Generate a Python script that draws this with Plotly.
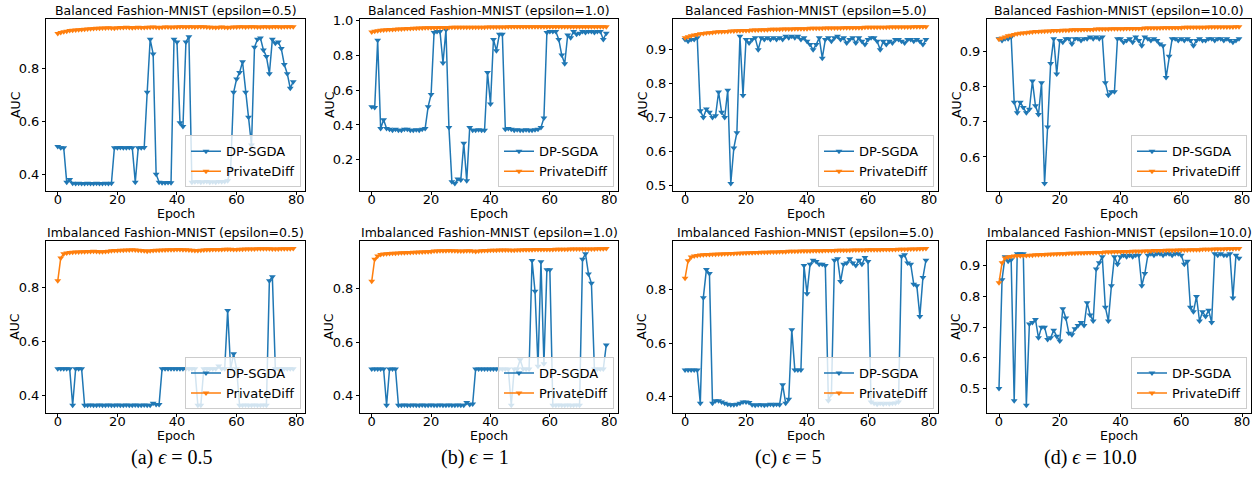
import plotly.graph_objects as go

epochs = list(range(80))

# ---------------- Balanced Fashion-MNIST ----------------
bal_05_dpsgda = [
    0.505, 0.500, 0.500, 0.370, 0.380, 0.366, 0.365, 0.366, 0.365, 0.365,
    0.366, 0.365, 0.365, 0.366, 0.365, 0.365, 0.366, 0.365, 0.366, 0.500,
    0.500, 0.501, 0.500, 0.500, 0.501, 0.500, 0.370, 0.500, 0.500, 0.501,
    0.710, 0.910, 0.855, 0.400, 0.370, 0.368, 0.368, 0.369, 0.368, 0.910,
    0.900, 0.595, 0.580, 0.900, 0.920, 0.370, 0.371, 0.372, 0.370, 0.371,
    0.372, 0.370, 0.371, 0.370, 0.372, 0.371, 0.372, 0.375, 0.420, 0.710,
    0.760, 0.785, 0.825, 0.710, 0.615, 0.510, 0.880, 0.910, 0.915, 0.870,
    0.845, 0.780, 0.910, 0.895, 0.900, 0.875, 0.815, 0.780, 0.725, 0.750]
bal_05_privdiff = [
    0.932, 0.936, 0.939, 0.941, 0.943, 0.944, 0.945, 0.946, 0.947, 0.948,
    0.949, 0.950, 0.951, 0.952, 0.952, 0.953, 0.953, 0.954, 0.953, 0.952,
    0.954, 0.955, 0.955, 0.956, 0.955, 0.954, 0.955, 0.956, 0.955, 0.955,
    0.956, 0.956, 0.957, 0.956, 0.955, 0.956, 0.957, 0.957, 0.956, 0.957,
    0.957, 0.958, 0.958, 0.957, 0.958, 0.958, 0.957, 0.958, 0.958, 0.958,
    0.957, 0.956, 0.956, 0.955, 0.956, 0.957, 0.956, 0.955, 0.956, 0.957,
    0.957, 0.958, 0.958, 0.957, 0.958, 0.958, 0.958, 0.957, 0.957, 0.958,
    0.958, 0.957, 0.958, 0.958, 0.958, 0.957, 0.958, 0.958, 0.958, 0.958]

bal_1_dpsgda = [
    0.505, 0.500, 0.885, 0.380, 0.430, 0.380, 0.375, 0.370, 0.375, 0.370,
    0.370, 0.375, 0.375, 0.370, 0.370, 0.372, 0.370, 0.375, 0.380, 0.505,
    0.575, 0.930, 0.935, 0.935, 0.755, 0.945, 0.385, 0.075, 0.065, 0.090,
    0.085, 0.295, 0.080, 0.385, 0.370, 0.370, 0.372, 0.370, 0.370, 0.700,
    0.520, 0.890, 0.825, 0.920, 0.920, 0.375, 0.380, 0.375, 0.370, 0.372,
    0.370, 0.370, 0.372, 0.370, 0.370, 0.372, 0.375, 0.385, 0.440, 0.930,
    0.935, 0.935, 0.935, 0.890, 0.800, 0.750, 0.915, 0.900, 0.935, 0.920,
    0.925, 0.935, 0.930, 0.935, 0.935, 0.930, 0.935, 0.935, 0.890, 0.925]
bal_1_privdiff = [
    0.933, 0.937, 0.940, 0.942, 0.944, 0.945, 0.946, 0.947, 0.948, 0.949,
    0.950, 0.951, 0.952, 0.953, 0.954, 0.954, 0.955, 0.955, 0.956, 0.956,
    0.957, 0.957, 0.957, 0.958, 0.958, 0.958, 0.958, 0.959, 0.959, 0.959,
    0.959, 0.959, 0.960, 0.960, 0.960, 0.960, 0.960, 0.960, 0.960, 0.961,
    0.961, 0.961, 0.961, 0.961, 0.961, 0.961, 0.962, 0.962, 0.962, 0.962,
    0.962, 0.962, 0.962, 0.962, 0.962, 0.962, 0.962, 0.962, 0.962, 0.962,
    0.962, 0.962, 0.962, 0.962, 0.962, 0.963, 0.963, 0.963, 0.963, 0.963,
    0.963, 0.963, 0.963, 0.963, 0.963, 0.963, 0.963, 0.963, 0.963, 0.963]

bal_5_dpsgda = [
    0.930, 0.925, 0.930, 0.930, 0.935, 0.720, 0.700, 0.725, 0.715, 0.700,
    0.705, 0.775, 0.715, 0.700, 0.780, 0.505, 0.610, 0.655, 0.940, 0.765,
    0.930, 0.920, 0.930, 0.935, 0.900, 0.935, 0.930, 0.935, 0.930, 0.935,
    0.930, 0.935, 0.930, 0.940, 0.935, 0.940, 0.935, 0.940, 0.930, 0.935,
    0.925, 0.915, 0.900, 0.915, 0.935, 0.875, 0.930, 0.935, 0.925, 0.935,
    0.940, 0.930, 0.935, 0.920, 0.930, 0.935, 0.920, 0.935, 0.925, 0.915,
    0.930, 0.935, 0.935, 0.925, 0.900, 0.925, 0.915, 0.925, 0.920, 0.930,
    0.930, 0.925, 0.920, 0.930, 0.930, 0.925, 0.930, 0.925, 0.915, 0.930]
bal_5_privdiff = [
    0.935, 0.938, 0.941, 0.943, 0.945, 0.947, 0.948, 0.949, 0.950, 0.951,
    0.952, 0.953, 0.953, 0.954, 0.954, 0.955, 0.955, 0.956, 0.956, 0.957,
    0.957, 0.957, 0.958, 0.958, 0.958, 0.959, 0.959, 0.959, 0.960, 0.960,
    0.960, 0.960, 0.961, 0.961, 0.961, 0.961, 0.962, 0.962, 0.962, 0.962,
    0.962, 0.963, 0.963, 0.963, 0.963, 0.963, 0.964, 0.964, 0.964, 0.964,
    0.964, 0.964, 0.965, 0.965, 0.965, 0.965, 0.965, 0.965, 0.965, 0.966,
    0.966, 0.966, 0.966, 0.966, 0.966, 0.966, 0.966, 0.967, 0.967, 0.967,
    0.967, 0.967, 0.967, 0.967, 0.967, 0.968, 0.968, 0.968, 0.968, 0.968]

bal_10_dpsgda = [
    0.935, 0.930, 0.935, 0.935, 0.940, 0.755, 0.725, 0.755, 0.740, 0.725,
    0.735, 0.815, 0.745, 0.720, 0.810, 0.525, 0.685, 0.865, 0.935, 0.835,
    0.930, 0.925, 0.935, 0.935, 0.920, 0.935, 0.935, 0.930, 0.935, 0.935,
    0.940, 0.935, 0.940, 0.935, 0.940, 0.810, 0.775, 0.785, 0.785, 0.935,
    0.935, 0.925, 0.930, 0.935, 0.925, 0.940, 0.930, 0.915, 0.940, 0.935,
    0.930, 0.935, 0.930, 0.920, 0.915, 0.825, 0.885, 0.935, 0.935, 0.930,
    0.935, 0.930, 0.935, 0.930, 0.915, 0.930, 0.935, 0.930, 0.930, 0.935,
    0.935, 0.930, 0.935, 0.935, 0.930, 0.935, 0.930, 0.925, 0.930, 0.935]
bal_10_privdiff = [
    0.933, 0.937, 0.940, 0.943, 0.945, 0.947, 0.949, 0.950, 0.951, 0.952,
    0.953, 0.954, 0.955, 0.955, 0.956, 0.956, 0.957, 0.957, 0.958, 0.958,
    0.958, 0.959, 0.959, 0.959, 0.960, 0.960, 0.960, 0.960, 0.961, 0.961,
    0.961, 0.961, 0.962, 0.962, 0.962, 0.962, 0.962, 0.963, 0.963, 0.963,
    0.963, 0.963, 0.964, 0.964, 0.964, 0.964, 0.964, 0.964, 0.965, 0.965,
    0.965, 0.965, 0.965, 0.965, 0.966, 0.966, 0.966, 0.966, 0.966, 0.966,
    0.966, 0.967, 0.967, 0.967, 0.967, 0.967, 0.967, 0.967, 0.967, 0.968,
    0.968, 0.968, 0.968, 0.968, 0.968, 0.968, 0.968, 0.968, 0.969, 0.969]

# ---------------- Imbalanced Fashion-MNIST ----------------
imb_05_dpsgda = [
    0.500, 0.500, 0.500, 0.500, 0.500, 0.365, 0.500, 0.500, 0.500, 0.365,
    0.365, 0.366, 0.365, 0.365, 0.366, 0.365, 0.365, 0.366, 0.365, 0.365,
    0.366, 0.365, 0.365, 0.366, 0.365, 0.365, 0.366, 0.365, 0.365, 0.366,
    0.365, 0.365, 0.372, 0.368, 0.368, 0.500, 0.500, 0.500, 0.500, 0.500,
    0.500, 0.500, 0.500, 0.500, 0.500, 0.500, 0.500, 0.365, 0.365, 0.500,
    0.500, 0.500, 0.500, 0.500, 0.510, 0.500, 0.500, 0.715, 0.500, 0.555,
    0.500, 0.365, 0.365, 0.366, 0.365, 0.365, 0.366, 0.365, 0.365, 0.366,
    0.365, 0.825, 0.840, 0.500, 0.500, 0.500, 0.500, 0.500, 0.500, 0.500]
imb_05_privdiff = [
    0.825, 0.910, 0.925, 0.928, 0.930, 0.931, 0.932, 0.932, 0.933, 0.933,
    0.934, 0.934, 0.935, 0.934, 0.933, 0.933, 0.934, 0.935, 0.936, 0.937,
    0.937, 0.938, 0.938, 0.939, 0.939, 0.940, 0.939, 0.938, 0.937, 0.936,
    0.935, 0.936, 0.937, 0.938, 0.938, 0.939, 0.939, 0.940, 0.940, 0.940,
    0.941, 0.941, 0.940, 0.940, 0.939, 0.938, 0.937, 0.937, 0.938, 0.939,
    0.940, 0.940, 0.941, 0.941, 0.941, 0.941, 0.942, 0.942, 0.942, 0.941,
    0.941, 0.942, 0.942, 0.943, 0.943, 0.943, 0.943, 0.944, 0.944, 0.944,
    0.944, 0.944, 0.943, 0.943, 0.943, 0.944, 0.944, 0.944, 0.944, 0.945]

imb_1_dpsgda = [
    0.500, 0.500, 0.500, 0.500, 0.500, 0.365, 0.500, 0.500, 0.500, 0.365,
    0.365, 0.366, 0.365, 0.365, 0.366, 0.365, 0.365, 0.366, 0.365, 0.365,
    0.366, 0.365, 0.365, 0.366, 0.365, 0.365, 0.366, 0.365, 0.365, 0.366,
    0.365, 0.365, 0.375, 0.368, 0.370, 0.500, 0.500, 0.500, 0.500, 0.500,
    0.500, 0.500, 0.500, 0.500, 0.500, 0.500, 0.500, 0.365, 0.500, 0.500,
    0.535, 0.500, 0.500, 0.500, 0.905, 0.790, 0.510, 0.900, 0.520, 0.870,
    0.870, 0.365, 0.365, 0.366, 0.365, 0.365, 0.366, 0.365, 0.365, 0.366,
    0.365, 0.910, 0.930, 0.855, 0.820, 0.500, 0.500, 0.500, 0.500, 0.590]
imb_1_privdiff = [
    0.828, 0.910, 0.922, 0.927, 0.929, 0.930, 0.931, 0.932, 0.932, 0.933,
    0.934, 0.934, 0.935, 0.935, 0.936, 0.936, 0.937, 0.937, 0.938, 0.938,
    0.939, 0.940, 0.940, 0.941, 0.941, 0.941, 0.942, 0.941, 0.941, 0.940,
    0.940, 0.940, 0.941, 0.941, 0.940, 0.939, 0.940, 0.941, 0.942, 0.942,
    0.943, 0.943, 0.943, 0.944, 0.944, 0.944, 0.944, 0.943, 0.943, 0.944,
    0.944, 0.945, 0.945, 0.945, 0.945, 0.946, 0.946, 0.946, 0.946, 0.946,
    0.946, 0.946, 0.947, 0.947, 0.947, 0.947, 0.947, 0.948, 0.948, 0.948,
    0.948, 0.948, 0.948, 0.948, 0.948, 0.948, 0.949, 0.949, 0.949, 0.950]

imb_5_dpsgda = [
    0.500, 0.500, 0.500, 0.500, 0.500, 0.375, 0.770, 0.875, 0.860, 0.375,
    0.385, 0.385, 0.380, 0.375, 0.372, 0.370, 0.370, 0.372, 0.375, 0.380,
    0.380, 0.378, 0.370, 0.368, 0.370, 0.370, 0.368, 0.370, 0.372, 0.370,
    0.372, 0.370, 0.445, 0.375, 0.390, 0.650, 0.500, 0.500, 0.500, 0.890,
    0.785, 0.895, 0.910, 0.905, 0.895, 0.895, 0.890, 0.385, 0.410, 0.910,
    0.915, 0.830, 0.895, 0.900, 0.915, 0.900, 0.890, 0.910, 0.895, 0.920,
    0.905, 0.380, 0.375, 0.372, 0.375, 0.373, 0.375, 0.374, 0.375, 0.376,
    0.380, 0.925, 0.930, 0.900, 0.895, 0.820, 0.815, 0.700, 0.845, 0.910]
imb_5_privdiff = [
    0.843, 0.908, 0.922, 0.926, 0.928, 0.929, 0.930, 0.931, 0.931, 0.932,
    0.932, 0.933, 0.933, 0.934, 0.934, 0.935, 0.935, 0.936, 0.936, 0.937,
    0.937, 0.938, 0.938, 0.939, 0.939, 0.940, 0.940, 0.940, 0.941, 0.941,
    0.941, 0.942, 0.942, 0.942, 0.943, 0.943, 0.943, 0.943, 0.944, 0.944,
    0.944, 0.944, 0.945, 0.945, 0.945, 0.945, 0.946, 0.946, 0.946, 0.946,
    0.947, 0.947, 0.947, 0.947, 0.947, 0.948, 0.948, 0.948, 0.948, 0.948,
    0.949, 0.949, 0.949, 0.949, 0.949, 0.950, 0.950, 0.950, 0.950, 0.950,
    0.951, 0.951, 0.951, 0.951, 0.952, 0.952, 0.952, 0.953, 0.953, 0.954]

imb_10_dpsgda = [
    0.500, 0.855, 0.930, 0.915, 0.920, 0.460, 0.940, 0.940, 0.940, 0.445,
    0.710, 0.715, 0.725, 0.665, 0.700, 0.700, 0.660, 0.665, 0.690, 0.670,
    0.655, 0.760, 0.730, 0.680, 0.675, 0.695, 0.705, 0.715, 0.705, 0.780,
    0.740, 0.720, 0.890, 0.910, 0.930, 0.765, 0.720, 0.835, 0.930, 0.905,
    0.930, 0.935, 0.930, 0.935, 0.930, 0.935, 0.935, 0.835, 0.875, 0.935,
    0.940, 0.935, 0.940, 0.940, 0.935, 0.940, 0.940, 0.935, 0.940, 0.940,
    0.935, 0.905, 0.915, 0.765, 0.750, 0.800, 0.720, 0.750, 0.735, 0.755,
    0.715, 0.940, 0.935, 0.940, 0.935, 0.935, 0.940, 0.795, 0.935, 0.925]
imb_10_privdiff = [
    0.845, 0.910, 0.926, 0.929, 0.931, 0.932, 0.933, 0.933, 0.934, 0.934,
    0.935, 0.935, 0.936, 0.936, 0.937, 0.937, 0.938, 0.938, 0.939, 0.939,
    0.940, 0.940, 0.940, 0.941, 0.941, 0.941, 0.942, 0.942, 0.942, 0.943,
    0.943, 0.943, 0.944, 0.944, 0.944, 0.945, 0.945, 0.945, 0.946, 0.946,
    0.946, 0.947, 0.947, 0.947, 0.948, 0.948, 0.948, 0.948, 0.949, 0.949,
    0.949, 0.950, 0.950, 0.950, 0.950, 0.951, 0.951, 0.951, 0.951, 0.952,
    0.952, 0.952, 0.952, 0.953, 0.953, 0.953, 0.953, 0.954, 0.954, 0.954,
    0.954, 0.955, 0.955, 0.955, 0.955, 0.956, 0.956, 0.956, 0.957, 0.957]

panel_titles = [
    "Balanced Fashion-MNIST (epsilon=0.5)",
    "Balanced Fashion-MNIST (epsilon=1.0)",
    "Balanced Fashion-MNIST (epsilon=5.0)",
    "Balanced Fashion-MNIST (epsilon=10.0)",
    "Imbalanced Fashion-MNIST (epsilon=0.5)",
    "Imbalanced Fashion-MNIST (epsilon=1.0)",
    "Imbalanced Fashion-MNIST (epsilon=5.0)",
    "Imbalanced Fashion-MNIST (epsilon=10.0)",
]
dpsgda_series = [bal_05_dpsgda, bal_1_dpsgda, bal_5_dpsgda, bal_10_dpsgda,
                 imb_05_dpsgda, imb_1_dpsgda, imb_5_dpsgda, imb_10_dpsgda]
privdiff_series = [bal_05_privdiff, bal_1_privdiff, bal_5_privdiff, bal_10_privdiff,
                   imb_05_privdiff, imb_1_privdiff, imb_5_privdiff, imb_10_privdiff]
y_dticks = [0.2, 0.2, 0.1, 0.1, 0.2, 0.2, 0.2, 0.1]
captions = ["(a) <i>ϵ</i> = 0.5", "(b) <i>ϵ</i> = 1", "(c) <i>ϵ</i> = 5", "(d) <i>ϵ</i> = 10.0"]
x_ticks = [0, 20, 40, 60, 80]
series_names = ["DP-SGDA", "PrivateDiff"]
x_label = "Epoch"
y_label = "AUC"

# ---------------- layout geometry (pixels) ----------------
W, H = 1258, 488
col_px = [(46, 305), (360, 618), (673, 938), (987, 1251)]
row_px = [(13, 188), (238, 413)]
caption_x = [172, 475, 788, 1090]
caption_y = 458

BLUE = "#1f77b4"
ORANGE = "#ff7f0e"
TXT = "DejaVu Sans"

fig = go.Figure()
layout = dict(
    width=W, height=H, margin=dict(l=0, r=0, t=0, b=0),
    paper_bgcolor="white", plot_bgcolor="white",
    font=dict(family=TXT, size=13, color="black"),
    showlegend=True,
)
annotations = []

for i in range(8):
    r, c = divmod(i, 4)
    (xl, xr), (yt, yb) = col_px[c], row_px[r]
    k = "" if i == 0 else str(i + 1)
    leg = "legend" if i == 0 else f"legend{i + 1}"
    for name, ys, color in zip(series_names, [dpsgda_series[i], privdiff_series[i]], [BLUE, ORANGE]):
        fig.add_trace(go.Scatter(
            x=epochs, y=ys, name=name, mode="lines+markers",
            line=dict(color=color, width=1.5),
            marker=dict(symbol="triangle-down", size=6, color=color),
            xaxis="x" + k, yaxis="y" + k, legend=leg,
        ))
    allv = dpsgda_series[i] + privdiff_series[i]
    lo, hi = min(allv), max(allv)
    pad = (hi - lo) * 0.05
    xpad = (max(epochs) - min(epochs)) * 0.05
    axis_common = dict(showline=True, linecolor="black", linewidth=1, mirror=True,
                       ticks="outside", ticklen=3, tickcolor="black", showgrid=False,
                       zeroline=False, tickfont=dict(size=13, family=TXT))
    layout["xaxis" + k] = dict(
        domain=[xl / W, xr / W], anchor="y" + k,
        range=[min(epochs) - xpad, max(epochs) + xpad],
        tickmode="array", tickvals=x_ticks, ticklabelstandoff=-7,
        **axis_common)
    layout["yaxis" + k] = dict(
        domain=[1 - yb / H, 1 - yt / H], anchor="x" + k,
        range=[lo - pad, hi + pad], dtick=y_dticks[i], tick0=0, tickformat=".1f",
        **axis_common)
    layout[leg] = dict(
        x=(xr - 4) / W, y=1 - (yb - 4) / H, xanchor="right", yanchor="bottom",
        xref="paper", yref="paper",
        bgcolor="rgba(255,255,255,0.8)", bordercolor="#cccccc", borderwidth=1,
        font=dict(size=13, family=TXT), itemwidth=30, tracegroupgap=0,
    )
    annotations.append(dict(
        text=panel_titles[i], x=(xl + xr) / 2 / W, y=1 - (yt + 1) / H,
        xref="paper", yref="paper", xanchor="center", yanchor="bottom",
        showarrow=False, font=dict(size=12.5, family=TXT, color="black")))
    annotations.append(dict(
        text=x_label, x=(xl + xr) / 2 / W, y=1 - (yb + 22.5) / H,
        xref="paper", yref="paper", xanchor="center", yanchor="middle",
        showarrow=False, font=dict(size=12.5, family=TXT, color="black")))
    annotations.append(dict(
        text=y_label, x=(xl - 31) / W, y=1 - (yt + yb) / 2 / H, textangle=-90,
        xref="paper", yref="paper", xanchor="center", yanchor="middle",
        showarrow=False, font=dict(size=12.5, family=TXT, color="black")))

for c in range(4):
    annotations.append(dict(
        text=captions[c], x=caption_x[c] / W, y=1 - caption_y / H,
        xref="paper", yref="paper", xanchor="center", yanchor="middle",
        showarrow=False,
        font=dict(size=20, family="Liberation Serif, DejaVu Serif, serif", color="black")))

layout["annotations"] = annotations
fig.update_layout(**layout)
fig.write_html("out.html")
